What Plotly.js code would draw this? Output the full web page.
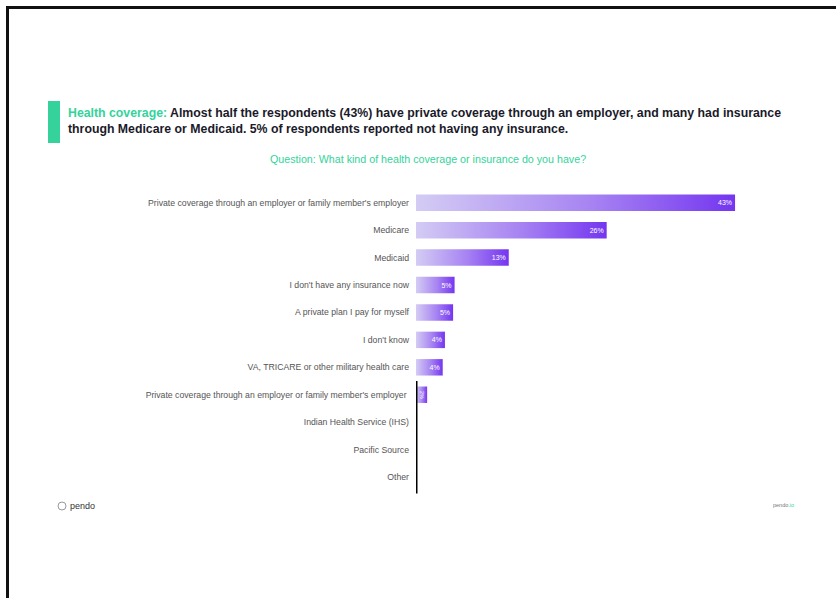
<!DOCTYPE html>
<html>
<head>
<meta charset="utf-8">
<script src="https://cdn.plot.ly/plotly-3.0.1.min.js"></script>
<style>
html,body{margin:0;padding:0;background:#fff;}
#chart{width:836px;height:598px;}
</style>
</head>
<body>
<div id="chart"></div>
<script>
// ---- data ----
const categories = [
  "Private coverage through an employer or family member's employer",
  "Medicare",
  "Medicaid",
  "I don't have any insurance now",
  "A private plan I pay for myself",
  "I don't know",
  "VA, TRICARE or other military health care",
  "Private coverage through an employer or family member's employer ",
  "Indian Health Service (IHS)",
  "Pacific Source",
  "Other"
];
const values = [43, 25.7, 12.5, 5.2, 5.0, 3.9, 3.6, 1.5, 0, 0, 0];
const valueLabels = ["43%", "26%", "13%", "5%", "5%", "4%", "4%", "2%", "", "", ""];

const titleLead = "Health coverage:";
const titleLine1 = " Almost half the respondents (43%) have private coverage through an employer, and many had insurance";
const titleLine2 = "through Medicare or Medicaid. 5% of respondents reported not having any insurance.";
const questionText = "Question: What kind of health coverage or insurance do you have?";

// ---- layout helpers (pixel -> paper) ----
const W = 836, H = 598;
const mL = 416, mR = 49, mT = 189, mB = 103;
const pw = W - mL - mR, ph = H - mT - mB;
const px = X => (X - mL) / pw;
const py = Y => (H - mB - Y) / ph;

const green = '#35d39b';

const trace = {
  type: 'bar',
  orientation: 'h',
  y: categories,
  x: values,
  text: valueLabels,
  textposition: 'inside',
  insidetextanchor: 'end',
  textfont: {color: '#ffffff', size: 7, family: 'Liberation Sans'},
  marker: {color: '#9b6ff2', line: {width: 0}},
  cliponaxis: false,
  hoverinfo: 'none'
};

const layout = {
  width: W, height: H,
  margin: {l: mL, r: mR, t: mT, b: mB, pad: 0},
  paper_bgcolor: '#ffffff',
  plot_bgcolor: '#ffffff',
  showlegend: false,
  bargap: 0.4,
  xaxis: {range: [0, 50], visible: false, fixedrange: true},
  yaxis: {
    type: 'category',
    autorange: 'reversed',
    showgrid: false, zeroline: false, showline: false,
    ticks: '', ticklabelstandoff: 6,
    tickfont: {size: 8.7, color: '#555555', family: 'Liberation Sans'}
  },
  font: {family: 'Liberation Sans'},
  shapes: [
    // frame
    {type: 'line', xref: 'paper', yref: 'paper', x0: px(6), x1: px(836), y0: py(7.5), y1: py(7.5), line: {color: '#111', width: 3}},
    {type: 'line', xref: 'paper', yref: 'paper', x0: px(7.5), x1: px(7.5), y0: py(6), y1: py(598), line: {color: '#111', width: 3}},
    // green accent
    {type: 'rect', xref: 'paper', yref: 'paper', x0: px(48), x1: px(60), y0: py(101), y1: py(143), fillcolor: green, line: {width: 0}},
    // logo ring
    {type: 'circle', xref: 'paper', yref: 'paper', x0: px(58), x1: px(66), y0: py(502), y1: py(510), line: {color: '#999', width: 1}},
    // axis line for lower rows
    {type: 'line', xref: 'x', yref: 'y', x0: 0, x1: 0, y0: 6.5, y1: 10.6, line: {color: '#000', width: 3}}
  ],
  annotations: [
    {xref: 'paper', yref: 'paper', x: px(66), y: py(113), xanchor: 'left', yanchor: 'middle', showarrow: false, align: 'left',
     text: '<b><span style="color:' + green + '">' + titleLead + '</span>' + titleLine1 + '</b>',
     font: {size: 12.3, color: '#1a1a2a', family: 'Liberation Sans'}},
    {xref: 'paper', yref: 'paper', x: px(66), y: py(129), xanchor: 'left', yanchor: 'middle', showarrow: false, align: 'left',
     text: '<b>' + titleLine2 + '</b>',
     font: {size: 12.3, color: '#1a1a2a', family: 'Liberation Sans'}},
    {xref: 'paper', yref: 'paper', x: px(428), y: py(159), xanchor: 'center', yanchor: 'middle', showarrow: false,
     text: questionText, font: {size: 10.7, color: green, family: 'Liberation Sans'}},
    {xref: 'paper', yref: 'paper', x: px(68), y: py(506), xanchor: 'left', yanchor: 'middle', showarrow: false,
     text: 'pendo', font: {size: 9, color: '#333', family: 'Liberation Sans'}},
    {xref: 'paper', yref: 'paper', x: px(796), y: py(505), xanchor: 'right', yanchor: 'middle', showarrow: false,
     text: 'pendo<span style="color:' + green + '">.io</span>', font: {size: 5.5, color: '#777', family: 'Liberation Sans'}}
  ]
};

Plotly.newPlot('chart', [trace], layout, {displayModeBar: false, staticPlot: true}).then(gd => {
  const svg = gd.querySelector('svg.main-svg');
  const ns = 'http://www.w3.org/2000/svg';
  let defs = svg.querySelector('defs');
  if (!defs) { defs = document.createElementNS(ns, 'defs'); svg.insertBefore(defs, svg.firstChild); }
  const g = document.createElementNS(ns, 'linearGradient');
  g.setAttribute('id', 'barGrad');
  g.setAttribute('x1', '0'); g.setAttribute('x2', '1'); g.setAttribute('y1', '0'); g.setAttribute('y2', '0');
  [['0%', '#d4ccf4'], ['55%', '#a783f2'], ['100%', '#7436f0']].forEach(([o, c]) => {
    const s = document.createElementNS(ns, 'stop');
    s.setAttribute('offset', o); s.setAttribute('stop-color', c);
    g.appendChild(s);
  });
  defs.appendChild(g);
  gd.querySelectorAll('.barlayer .point path').forEach(p => { p.style.fill = 'url(#barGrad)'; });
});
</script>
</body>
</html>
